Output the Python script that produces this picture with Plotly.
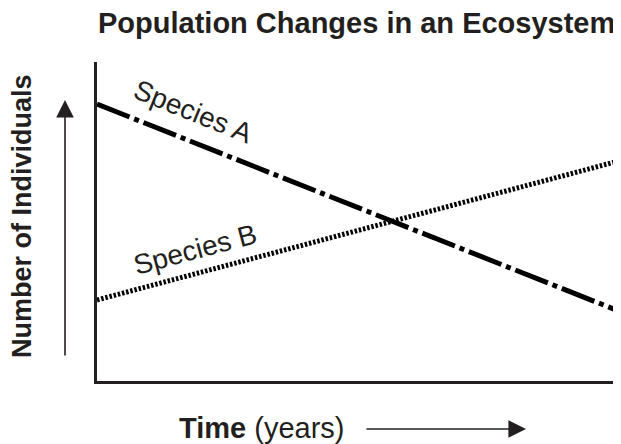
import plotly.graph_objects as go

# Data
time_points = [0, 10]
species_a = [8.68, 2.19]
species_b = [2.54, 6.90]
series_names = ["Species A", "Species B"]
chart_title = "Population Changes in an Ecosystem"
y_title = "Number of Individuals"

FONT = "Liberation Sans, Arial, Helvetica, sans-serif"
OFF = 8  # default page body margin
W, H = 621 - OFF, 444 - OFF
# plot area in reference pixels: left 97, top 62, right 619, bottom 381
L, T = 97 - OFF, 62 - OFF
R = W - (619 - OFF)
B = H - (381 - OFF)
pw, ph = W - L - R, H - T - B

def px_x(px):
    return (px - OFF - L) / pw

def px_y(py):
    return (H - B - (py - OFF)) / ph

fig = go.Figure()
fig.add_trace(go.Scatter(x=time_points, y=species_a, mode="lines", name=series_names[0],
                         line=dict(color="black", width=5, dash="35px,5px,5px,5px")))
fig.add_trace(go.Scatter(x=time_points, y=species_b, mode="lines", name=series_names[1],
                         line=dict(color="black", width=5, dash="2.5px,1.8px")))

INK = "#231f20"
ann = []
ann.append(dict(text="<b>" + chart_title + "</b>", xref="paper", yref="paper",
                x=px_x(356), y=px_y(23), showarrow=False, xanchor="center", yanchor="middle",
                font=dict(family=FONT, size=29, color=INK)))
ann.append(dict(text="<b>" + y_title + "</b>", xref="paper", yref="paper",
                x=px_x(22), y=px_y(216), showarrow=False, textangle=-90,
                xanchor="center", yanchor="middle",
                font=dict(family=FONT, size=27, color=INK)))
ann.append(dict(text="<b>Time</b> (years)", xref="paper", yref="paper",
                x=px_x(261), y=px_y(428), showarrow=False, xanchor="center", yanchor="middle",
                font=dict(family=FONT, size=29, color=INK)))
ann.append(dict(text="", xref="paper", yref="paper", x=px_x(65), y=px_y(100),
                showarrow=True, ax=0, ay=257, arrowhead=2, arrowsize=2.2, arrowwidth=1.6,
                arrowcolor=INK))
ann.append(dict(text="", xref="paper", yref="paper", x=px_x(526), y=px_y(429),
                showarrow=True, ax=-161, ay=0, arrowhead=2, arrowsize=2.2, arrowwidth=1.6,
                arrowcolor=INK))
ann.append(dict(text=series_names[0], xref="paper", yref="paper", x=px_x(193), y=px_y(111),
                showarrow=False, textangle=22, xanchor="center", yanchor="middle",
                font=dict(family=FONT, size=28, color=INK)))
ann.append(dict(text=series_names[1], xref="paper", yref="paper", x=px_x(195), y=px_y(249),
                showarrow=False, textangle=-15, xanchor="center", yanchor="middle",
                font=dict(family=FONT, size=28, color=INK)))

fig.update_layout(
    width=W, height=H,
    margin=dict(l=L, r=R, t=T, b=B, pad=0),
    paper_bgcolor="white", plot_bgcolor="white",
    showlegend=False,
    annotations=ann,
    xaxis=dict(range=[0, 10], showgrid=False, zeroline=False, showticklabels=False, ticks="",
               showline=True, linecolor=INK, linewidth=2.5, fixedrange=True),
    yaxis=dict(range=[0, 10], showgrid=False, zeroline=False, showticklabels=False, ticks="",
               showline=True, linecolor=INK, linewidth=2.5, fixedrange=True),
)

fig.write_html("out.html", config={"displayModeBar": False})
